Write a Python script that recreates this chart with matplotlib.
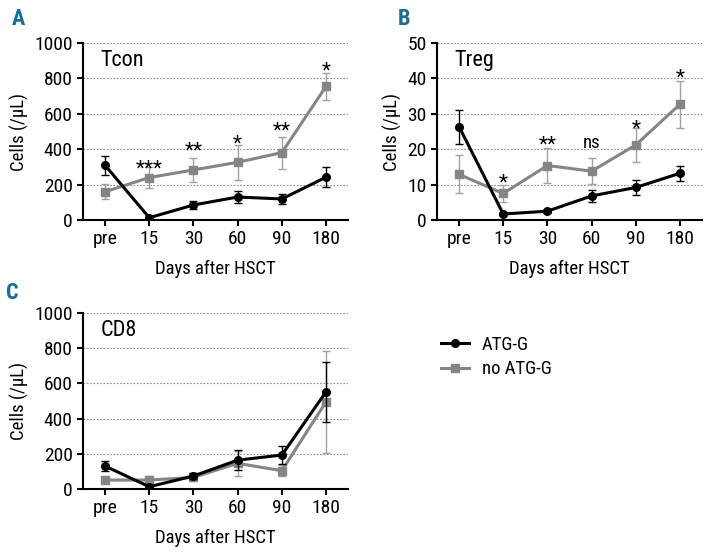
import matplotlib
matplotlib.use("Agg")
from matplotlib import pyplot as plt
from matplotlib.lines import Line2D

plt.rcParams['font.family'] = ['Roboto Condensed', 'Liberation Sans Narrow',
                               'Liberation Sans', 'DejaVu Sans']

days = ["pre", "15", "30", "60", "90", "180"]

# Tcon
tcon_atg = [309, 13, 85, 130, 119, 242]
tcon_atg_err = [53, 10, 20, 35, 30, 57]
tcon_no = [160, 240, 283, 326, 381, 755]
tcon_no_err = [42, 58, 66, 100, 90, 75]
tcon_stars = ["", "***", "**", "*", "**", "*"]
tcon_star_y = [0, 330, 430, 472, 543, 881]

# Treg
treg_atg = [26.4, 1.7, 2.5, 6.8, 9.2, 13.2]
treg_atg_err = [4.8, 0.4, 0.4, 1.6, 2.1, 2.1]
treg_no = [12.9, 7.5, 15.4, 13.8, 21.2, 32.7]
treg_no_err = [5.4, 2.4, 5.0, 3.6, 4.7, 6.6]
treg_stars = ["", "*", "**", "ns", "*", "*"]
treg_star_y = [0, 12.5, 23.1, 21.7, 27.8, 42.2]

# CD8
cd8_atg = [130, 13, 74, 164, 193, 552]
cd8_atg_err = [28, 8, 15, 57, 53, 170]
cd8_no = [51, 51, 66, 146, 104, 495]
cd8_no_err = [8, 25, 20, 70, 30, 290]

GRAY = "#858585"
BLUE = "#1b6d94"


def panel(ax, atg, atg_err, no, no_err, ymax, step, name, stars=None, star_y=None):
    x = list(range(len(days)))
    ax.errorbar(x, no, yerr=no_err, color=GRAY, ecolor="#a0a0a0", elinewidth=1,
                capsize=3, capthick=1, lw=2.2, marker="s", ms=6, zorder=3)
    ax.errorbar(x, atg, yerr=atg_err, color="black", ecolor="black", elinewidth=1,
                capsize=3, capthick=1, lw=2.2, marker="o", ms=5.5, zorder=4)
    ax.set_xlim(-0.5, 5.5)
    ax.set_ylim(0, ymax)
    ax.set_yticks([i * step for i in range(6)])
    ax.set_xticks(x)
    ax.set_xticklabels(days)
    for v in range(1, 6):
        ax.axhline(v * step, color="#8c8c8c", lw=0.8, ls=(0, (1.5, 1.5)), zorder=1)
    for s in ["top", "right"]:
        ax.spines[s].set_visible(False)
    for s in ["left", "bottom"]:
        ax.spines[s].set_linewidth(1.5)
    ax.tick_params(labelsize=14, width=1.5, length=4)
    ax.set_xlabel("Days after HSCT", fontsize=13.5, labelpad=8)
    ax.set_ylabel("Cells (/\u03bcL)", fontsize=13.5, labelpad=4)
    ax.text(0.065, 0.9, name, transform=ax.transAxes, fontsize=16, va="center")
    if stars:
        for i, (s, yv) in enumerate(zip(stars, star_y)):
            if s == "ns":
                ax.text(i, yv, s, ha="center", va="center", fontsize=13.5)
            elif s:
                ax.text(i, yv - 0.04 * ymax, s, ha="center", va="center",
                        fontsize=15)


fig = plt.figure(figsize=(7.07, 5.52), dpi=100)
axA = fig.add_axes([0.1174, 0.6014, 0.375, 0.3207])
axB = fig.add_axes([0.618, 0.6014, 0.375, 0.3207])
axC = fig.add_axes([0.1174, 0.1141, 0.375, 0.3189])

panel(axA, tcon_atg, tcon_atg_err, tcon_no, tcon_no_err, 1000, 200, "Tcon",
      tcon_stars, tcon_star_y)
panel(axB, treg_atg, treg_atg_err, treg_no, treg_no_err, 50, 10, "Treg",
      treg_stars, treg_star_y)
panel(axC, cd8_atg, cd8_atg_err, cd8_no, cd8_no_err, 1000, 200, "CD8")

fig.text(12 / 707, 1 - 19 / 552, "A", color=BLUE, fontsize=16, fontweight="bold",
         va="center")
fig.text(398 / 707, 1 - 19 / 552, "B", color=BLUE, fontsize=16, fontweight="bold",
         va="center")
fig.text(6 / 707, 1 - 293 / 552, "C", color=BLUE, fontsize=16, fontweight="bold",
         va="center")

handles = [Line2D([], [], color="black", lw=2.2, marker="o", ms=5.5),
           Line2D([], [], color=GRAY, lw=2.2, marker="s", ms=6)]
fig.legend(handles, ["ATG-G", "no ATG-G"], loc="upper left",
           bbox_to_anchor=(424 / 707, 1 - 319 / 552), frameon=False,
           fontsize=13.5, handlelength=1.5, handletextpad=0.7, labelspacing=0.35)

fig.savefig("out.png", dpi=100)
